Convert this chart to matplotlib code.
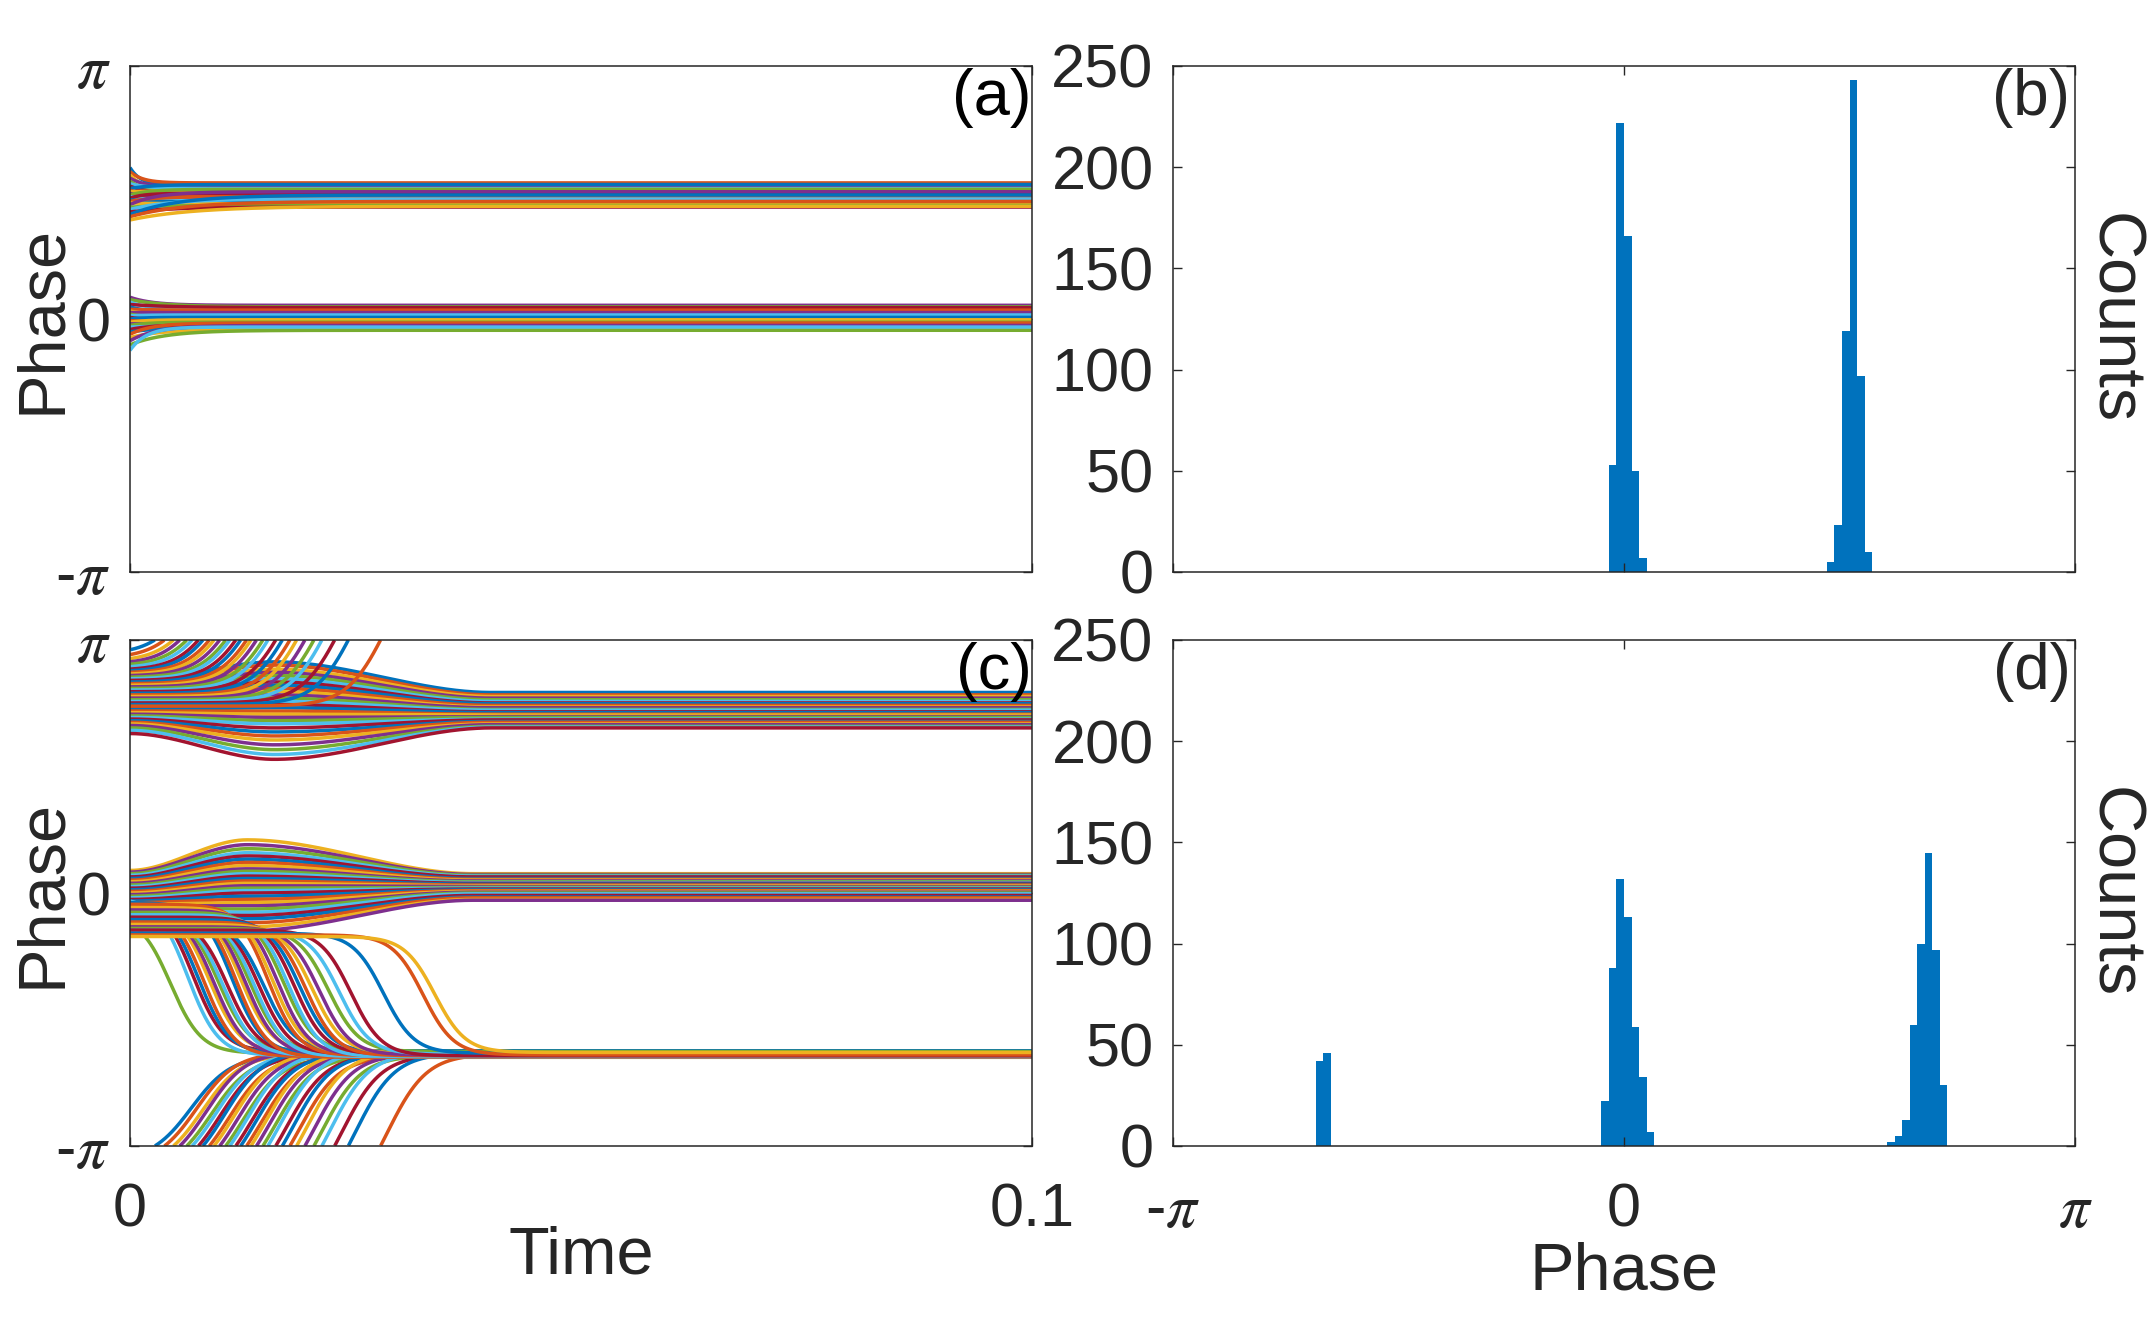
import numpy as np
import matplotlib
matplotlib.use("Agg")
import matplotlib.pyplot as plt

plt.rcParams["font.family"] = ["Liberation Sans", "DejaVu Sans"]
plt.rcParams["mathtext.fontset"] = "stix"

# ---------------- data ----------------
# (a) phase trajectories: start phase, final phase, relaxation time
a_up_start = [1.88, 1.83, 1.79, 1.75, 1.71, 1.68, 1.65, 1.62, 1.60, 1.58, 1.56, 1.54,
              1.52, 1.50, 1.48, 1.46, 1.44, 1.42, 1.39, 1.36, 1.33, 1.30, 1.27, 1.23]
a_up_end = [1.66, 1.69, 1.60, 1.64, 1.57, 1.62, 1.55, 1.67, 1.53, 1.59, 1.50, 1.61,
            1.47, 1.56, 1.45, 1.52, 1.43, 1.58, 1.41, 1.49, 1.39, 1.54, 1.46, 1.40]
a_up_tau = [0.0012, 0.0014, 0.0015, 0.0016, 0.0018, 0.0020, 0.0022, 0.0025, 0.0015, 0.0020,
            0.0018, 0.0022, 0.0025, 0.0015, 0.0030, 0.0028, 0.0035, 0.0030, 0.0040, 0.0045,
            0.0050, 0.0055, 0.0060, 0.0070]
a_lo_start = [0.27, 0.24, 0.21, 0.18, 0.15, 0.12, 0.10, 0.08, 0.06, 0.04, 0.02, 0.00,
              -0.02, -0.04, -0.06, -0.08, -0.10, -0.13, -0.16, -0.19, -0.23, -0.27, -0.32, -0.39]
a_lo_end = [0.17, 0.15, 0.12, 0.14, 0.09, 0.11, 0.06, 0.08, 0.03, 0.05, 0.00, 0.02,
            -0.03, -0.01, -0.06, -0.04, -0.09, -0.07, -0.11, -0.05, -0.13, -0.08, -0.14, -0.10]
a_lo_tau = [0.0025, 0.0040, 0.0020, 0.0050, 0.0018, 0.0030, 0.0015, 0.0020, 0.0012, 0.0018,
            0.0010, 0.0015, 0.0012, 0.0018, 0.0015, 0.0020, 0.0020, 0.0025, 0.0030, 0.0025,
            0.0035, 0.0030, 0.0040, 0.0018]

# (c) upper cluster that stays: start, bulge, final
c_u_start = [2.63, 2.60, 2.57, 2.54, 2.51, 2.48, 2.45, 2.42, 2.40, 2.38, 2.36, 2.34, 2.32, 2.30,
             2.28, 2.26, 2.24, 2.22, 2.20, 2.18, 2.16, 2.14, 2.12, 2.10, 2.08, 2.05, 2.02, 1.98]
c_u_peak = [2.87, 2.83, 2.78, 2.74, 2.70, 2.66, 2.62, 2.58, 2.54, 2.50, 2.46, 2.42, 2.38, 2.34,
            2.30, 2.26, 2.22, 2.18, 2.14, 2.10, 2.05, 2.00, 1.95, 1.90, 1.84, 1.78, 1.72, 1.66]
c_u_end = [2.49, 2.46, 2.44, 2.42, 2.40, 2.38, 2.36, 2.35, 2.33, 2.31, 2.30, 2.28, 2.27, 2.25,
           2.24, 2.22, 2.21, 2.19, 2.18, 2.16, 2.15, 2.13, 2.12, 2.10, 2.09, 2.07, 2.06, 2.05]
# (c) upper cluster that wraps through pi to the lower cluster
c_w_start = [3.02, 2.96, 2.91, 2.87, 2.84, 2.81, 2.78, 2.76, 2.74, 2.72, 2.70, 2.68, 2.66, 2.64, 2.62,
             2.60, 2.58, 2.56, 2.54, 2.52, 2.50, 2.48, 2.46, 2.44, 2.42, 2.40, 2.38, 2.36, 2.34, 2.32]
c_w_time = [0.0068, 0.0074, 0.0080, 0.0085, 0.0090, 0.0095, 0.0100, 0.0105, 0.0110, 0.0115,
            0.0120, 0.0125, 0.0130, 0.0135, 0.0140, 0.0145, 0.0150, 0.0155, 0.0161, 0.0167,
            0.0174, 0.0181, 0.0188, 0.0196, 0.0204, 0.0213, 0.0222, 0.0235, 0.0250, 0.0285]
c_w_end = [-2.02, -1.98, -2.00, -1.97, -2.03, -1.99, -2.01, -1.96, -2.02, -1.98, -2.00, -2.04,
           -1.97, -2.01, -1.99, -2.03, -1.98, -2.00, -2.02, -1.96, -2.01, -1.99, -2.03, -1.97,
           -2.00, -2.02, -1.98, -2.01, -1.99, -2.00]
# (c) middle cluster that stays: start, bulge, final
c_m_start = [0.28, 0.26, 0.24, 0.22, 0.20, 0.18, 0.16, 0.14, 0.12, 0.10, 0.08, 0.06, 0.04, 0.02, 0.00,
             -0.02, -0.04, -0.06, -0.08, -0.10, -0.12, -0.14, -0.16, -0.18, -0.20, -0.22, -0.24,
             -0.26, -0.28, -0.30]
c_m_peak = [0.66, 0.60, 0.55, 0.50, 0.46, 0.42, 0.38, 0.34, 0.30, 0.27, 0.24, 0.21, 0.18, 0.15, 0.12,
            0.09, 0.06, 0.03, 0.00, -0.04, -0.08, -0.12, -0.16, -0.20, -0.24, -0.28, -0.32,
            -0.37, -0.42, -0.47]
c_m_end = [0.24, 0.23, 0.22, 0.21, 0.20, 0.18, 0.17, 0.16, 0.15, 0.14, 0.13, 0.12, 0.11, 0.10, 0.09,
           0.08, 0.07, 0.06, 0.05, 0.04, 0.03, 0.02, 0.01, 0.00, -0.01, -0.03, -0.05, -0.06,
           -0.08, -0.09]
# (c) middle cluster that drops to the lower cluster
c_d_start = [-0.38, -0.10, -0.12, -0.15, -0.18, -0.20, -0.22, -0.25, -0.27, -0.30, -0.12, -0.15,
             -0.18, -0.21, -0.24, -0.27, -0.30, -0.33, -0.14, -0.18, -0.21, -0.24, -0.27, -0.30,
             -0.33, -0.36, -0.39, -0.42, -0.44, -0.46, -0.46, -0.50, -0.52, -0.54]
c_d_time = [0.0045, 0.0064, 0.0070, 0.0076, 0.0082, 0.0088, 0.0093, 0.0098, 0.0103, 0.0108,
            0.0113, 0.0118, 0.0123, 0.0128, 0.0133, 0.0138, 0.0143, 0.0148, 0.0153, 0.0158,
            0.0164, 0.0170, 0.0176, 0.0182, 0.0188, 0.0195, 0.0202, 0.0210, 0.0220, 0.0232,
            0.0245, 0.0281, 0.0325, 0.0338]
c_d_end = [-1.99, -2.02, -1.97, -2.00, -2.03, -1.98, -2.01, -1.96, -2.02, -1.99, -2.00, -2.04,
           -1.97, -2.01, -1.98, -2.03, -2.00, -1.96, -2.02, -1.99, -2.01, -1.97, -2.03, -2.00,
           -1.98, -2.02, -1.99, -2.01, -1.97, -2.00, -2.02, -1.99, -2.01, -1.98]

# histograms: 120 bins over [-pi, pi], bin index -> count
b_bins = [58, 59, 60, 61, 62, 87, 88, 89, 90, 91, 92]
b_counts = [53, 222, 166, 50, 7, 5, 23, 119, 243, 97, 10]
d_bins = [19, 20, 57, 58, 59, 60, 61, 62, 63, 95, 96, 97, 98, 99, 100, 101, 102]
d_counts = [42, 46, 22, 88, 132, 113, 59, 34, 7, 2, 5, 13, 60, 100, 145, 97, 30]

# ---------------- helpers ----------------
COLORS = ["#0072BD", "#D95319", "#EDB120", "#7E2F8E", "#77AC30", "#4DBEEE", "#A2142F"]
INK = "#262626"
t = np.linspace(0, 0.1, 4001)


def smooth(x):
    x = np.clip(x, 0, 1)
    return 3 * x**2 - 2 * x**3


def relax(start, end, tau):
    return end + (start - end) * np.exp(-t / tau)


def lens(start, peak, end, tp, te):
    return np.where(t < tp, start + (peak - start) * smooth(t / tp),
                    peak + (end - peak) * smooth((t - tp) / (te - tp)))


def switch(start, end, tc, w):
    s = 1 / (1 + np.exp(-(t - tc) / w))
    s0 = 1 / (1 + np.exp(tc / w))
    return start + (end - start) * (s - s0) / (1 - s0)


def draw_phase(ax, theta, k):
    ph = (theta + np.pi) % (2 * np.pi) - np.pi
    cut = np.where(np.abs(np.diff(ph)) > np.pi)[0] + 1
    tt = np.insert(t, cut, np.nan)
    pp = np.insert(ph, cut, np.nan)
    ax.plot(tt, pp, color=COLORS[k % 7], lw=2.5, solid_capstyle="butt")


W, H = 2152, 1336
fig = plt.figure(figsize=(W / 100, H / 100), dpi=100)


def px_axes(x0, y0, x1, y1):
    return fig.add_axes([x0 / W, 1 - y1 / H, (x1 - x0) / W, (y1 - y0) / H])


ax_a = px_axes(130, 66, 1032, 572)
ax_b = px_axes(1173, 66, 2075, 572)
ax_c = px_axes(130, 640, 1032, 1146)
ax_d = px_axes(1173, 640, 2075, 1146)

# ---------------- (a) ----------------
k = 0
for s, e, tau in zip(a_up_start, a_up_end, a_up_tau):
    draw_phase(ax_a, relax(s, e, tau), k); k += 1
for s, e, tau in zip(a_lo_start, a_lo_end, a_lo_tau):
    draw_phase(ax_a, relax(s, e, tau), k); k += 1

# ---------------- (c) ----------------
k = 0
for s, p, e in zip(c_u_start, c_u_peak, c_u_end):
    draw_phase(ax_c, lens(s, p, e, 0.016, 0.040), k); k += 1
for s, tc, e in zip(c_w_start, c_w_time, c_w_end):
    draw_phase(ax_c, switch(s, e + 2 * np.pi, tc, 0.0022), k); k += 1
for s, p, e in zip(c_m_start, c_m_peak, c_m_end):
    draw_phase(ax_c, lens(s, p, e, 0.013, 0.038), k); k += 1
for s, tc, e in zip(c_d_start, c_d_time, c_d_end):
    draw_phase(ax_c, switch(s, e, tc, 0.0017), k); k += 1

# ---------------- histograms ----------------
bw = 2 * np.pi / 120
for ax, bins, counts in [(ax_b, b_bins, b_counts), (ax_d, d_bins, d_counts)]:
    centers = -np.pi + (np.array(bins) + 0.5) * bw
    ax.bar(centers, counts, width=bw, color="#0072BD", linewidth=0)
    ax.set_xlim(-np.pi, np.pi)
    ax.set_ylim(0, 250)
    ax.set_yticks([0, 50, 100, 150, 200, 250])
    ax.set_xticks([-np.pi, 0, np.pi])

ax_d.set_xticklabels([r"-$\pi$", "0", r"$\pi$"])
ax_b.set_xticklabels([])

for ax in (ax_a, ax_c):
    ax.set_xlim(0, 0.1)
    ax.set_ylim(-np.pi, np.pi)
    ax.set_xticks([0, 0.1])
    ax.set_yticks([-np.pi, 0, np.pi])
    ax.set_yticklabels([r"-$\pi$", "0", r"$\pi$"])
ax_c.set_xticklabels(["0", "0.1"])
ax_a.set_xticklabels([])

for ax in (ax_a, ax_b, ax_c, ax_d):
    ax.tick_params(direction="in", length=6.5, width=1.0, color=INK, labelcolor=INK,
                   labelsize=44, top=True, right=True)
    ax.tick_params(axis="y", pad=14)
    ax.tick_params(axis="x", pad=58)
    for lbl in ax.get_xticklabels():
        lbl.set_va("baseline")
    for sp in ax.spines.values():
        sp.set_color(INK)
        sp.set_linewidth(1.1)

# ---------------- text ----------------
fig.text(43 / W, 1 - 319 / H, "Phase", rotation=90, ha="center", va="center",
         fontsize=48, color=INK)
fig.text(43 / W, 1 - 893 / H, "Phase", rotation=90, ha="center", va="center",
         fontsize=48, color=INK)
fig.text(2112 / W, 1 - 319 / H, "Counts", rotation=270, ha="center", va="center",
         fontsize=48, color=INK)
fig.text(2112 / W, 1 - 893 / H, "Counts", rotation=270, ha="center", va="center",
         fontsize=48, color=INK)
fig.text(581 / W, 1 - 1256 / H, "Time", ha="center", va="center", fontsize=48, color=INK)
fig.text(1624 / W, 1 - 1272 / H, "Phase", ha="center", va="center", fontsize=48, color=INK)

for ax, lab in [(ax_a, "(a)"), (ax_c, "(c)")]:
    ax.text(1.0, 0.997, lab, transform=ax.transAxes, ha="right", va="top",
            fontsize=47, color="black")
for ax, lab in [(ax_b, "(b)"), (ax_d, "(d)")]:
    ax.text(0.995, 0.997, lab, transform=ax.transAxes, ha="right", va="top",
            fontsize=46, color=INK)

fig.savefig("out.png", dpi=100)
